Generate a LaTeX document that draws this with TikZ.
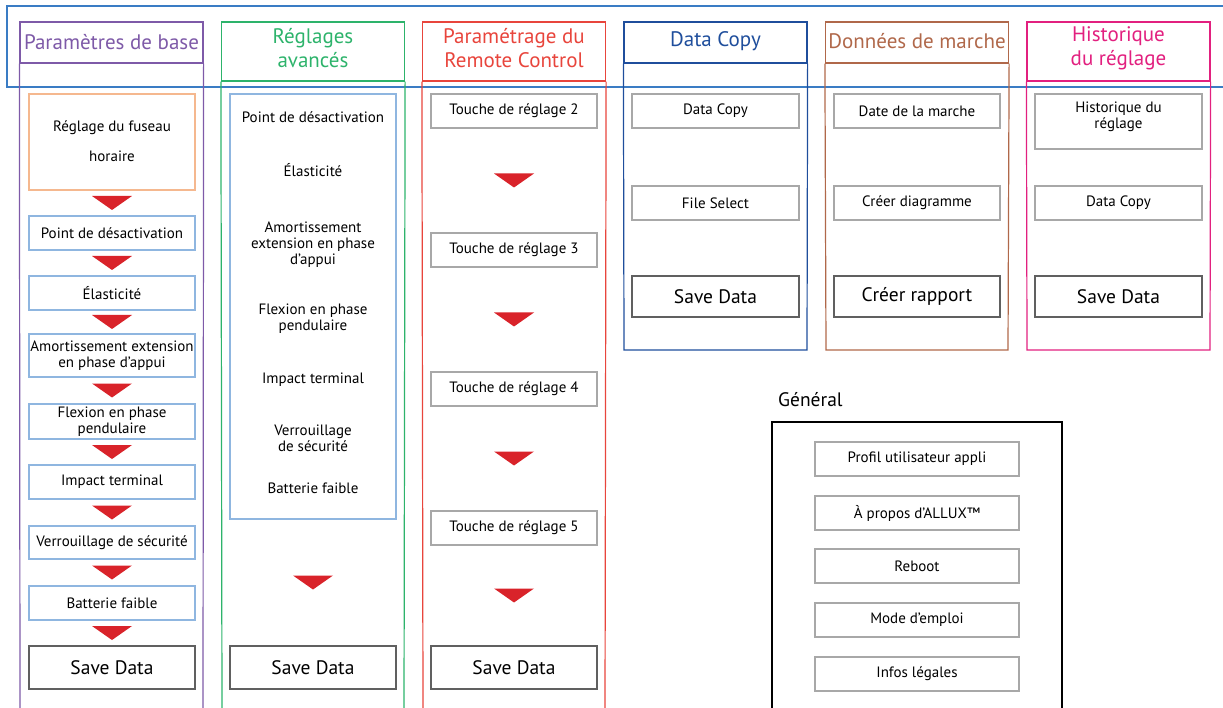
\documentclass[tikz,border=0pt]{standalone}
\usepackage{fontspec}
\setmainfont{PT Sans}
\usetikzlibrary{calc}
\definecolor{cpurple}{HTML}{7E5AA8}
\definecolor{cgreen}{HTML}{2DB36B}
\definecolor{cred}{HTML}{E8453C}
\definecolor{cdblue}{HTML}{1F4E9C}
\definecolor{cbrown}{HTML}{B0684A}
\definecolor{cpink}{HTML}{E2207F}
\definecolor{cframe}{HTML}{3A7CC4}
\definecolor{corange}{HTML}{F5B88F}
\definecolor{clblue}{HTML}{8FB6E0}
\definecolor{cgray}{HTML}{A8A8A8}
\definecolor{cdgray}{HTML}{606060}
\definecolor{ctri}{HTML}{D9232A}
\newcommand{\bodyfont}{\fontsize{15}{16}\selectfont}
\newcommand{\hdrfont}{\fontsize{21}{24}\selectfont}
\newcommand{\savefont}{\fontsize{19.5}{20}\selectfont}
\tikzset{
  colline/.style={line width=1.2pt},
  hdr/.style={draw, line width=1.2pt, minimum width=183pt, inner sep=0pt, align=center, font=\hdrfont},
  hdrtext/.style={inner sep=0pt, align=center, font=\hdrfont},
  graybox/.style={draw=cgray, line width=1.1pt, minimum width=166pt, minimum height=34pt, inner sep=0pt, align=center, font=\bodyfont},
  bluebox/.style={draw=clblue, line width=1.1pt, minimum width=166pt, minimum height=34pt, inner sep=0pt, align=center, font=\bodyfont},
  savebox/.style={draw=cdgray, line width=1.1pt, minimum width=166pt, minimum height=42pt, inner sep=0pt, align=center, font=\savefont},
  txt/.style={inner sep=0pt, align=center, font=\bodyfont},
  tri/.style={fill=ctri}
}
\newcommand{\tridown}[1]{\fill[tri] (#1) ++(-20,-7) -- ++(40,0) -- ++(-20,14) -- cycle;}
\begin{document}
\begin{tikzpicture}[x=1pt,y=-1pt]
\useasboundingbox (0,0) rectangle (1223,708);
% outer blue frame
\draw[cframe, line width=1.1pt] (1230,6) -- (7,6) -- (7,87) -- (1230,87);

% ---------- Column 1: Parametres de base
\node[hdr, draw=cpurple, minimum height=41pt] (h1) at (111.5,42.5) {};
\node[hdrtext, text=cpurple] (h1t) at (111.5,42) {Paramètres de base};
\draw[cpurple, colline] (h1.south west) -- (20,712) (h1.south east) -- (203,712);
\node[draw=corange, line width=1.1pt, minimum width=166pt, minimum height=96pt, inner sep=0pt] (a0) at (112,142) {};
\node[txt] (a0t) at (112,141) {Réglage du fuseau\\[14pt]horaire};
\node[bluebox] (a1) at (112,233) {Point de désactivation};
\node[bluebox] (a2) at (112,293) {Élasticité};
\node[bluebox, minimum height=43pt] (a3) at (112,355.5) {Amortissement extension\\en phase d’appui};
\node[bluebox, minimum height=35pt] (a4) at (112,421.5) {Flexion en phase\\pendulaire};
\node[bluebox] (a5) at (112,482) {Impact terminal};
\node[bluebox, minimum height=33pt] (a6) at (112,542.5) {Verrouillage de sécurité};
\node[bluebox] (a7) at (112,603) {Batterie faible};
\node[savebox, minimum height=43pt] (a8) at (112,667.5) {Save Data};
\foreach \u/\v in {a0/a1,a1/a2,a2/a3,a3/a4,a4/a5,a5/a6,a6/a7,a7/a8}{
  \tridown{$(\u.south)!0.5!(\v.north)$}
}

% ---------- Column 2: Reglages avances
\node[hdr, draw=cgreen, minimum height=59pt] (h2) at (313,51.5) {};
\node[hdrtext, text=cgreen] (h2t) at (313,48) {Réglages\\avancés};
\draw[cgreen, colline] (h2.south west) -- (222,712) (h2.south east) -- (404,712);
\node[draw=clblue, line width=1.1pt, minimum width=166pt, minimum height=425pt, inner sep=0pt] (b0) at (313,306.5) {};
\node[txt] (b1) at (313,117) {Point de désactivation};
\node[txt] (b2) at (313,170) {Élasticité};
\node[txt] (b3) at (313,245) {Amortissement\\extension en phase\\d’appui};
\node[txt] (b4) at (313,319) {Flexion en phase\\pendulaire};
\node[txt] (b5) at (313,380) {Impact terminal};
\node[txt] (b6) at (313,438) {Verrouillage\\de sécurité};
\node[txt] (b7) at (313,488) {Batterie faible};
\node[savebox, minimum height=43pt] (b8) at (313,667.5) {Save Data};
\tridown{$(b0.south)!0.5!(b8.north)$}

% ---------- Column 3: Remote Control
\node[hdr, draw=cred, minimum height=59pt] (h3) at (514,51.5) {};
\node[hdrtext, text=cred] (h3t) at (514,48) {Paramétrage du\\Remote Control};
\draw[cred, colline] (h3.south west) -- (423,712) (h3.south east) -- (605,712);
\node[graybox] (c1) at (514,111) {Touche de réglage 2};
\node[graybox] (c2) at (514,250) {Touche de réglage 3};
\node[graybox] (c3) at (514,389) {Touche de réglage 4};
\node[graybox] (c4) at (514,528) {Touche de réglage 5};
\node[savebox, minimum height=43pt] (c5) at (514,667.5) {Save Data};
\foreach \u/\v in {c1/c2,c2/c3,c3/c4,c4/c5}{
  \tridown{$(\u.south)!0.5!(\v.north)$}
}

% ---------- Column 4: Data Copy
\node[hdr, draw=cdblue, minimum height=41pt] (h4) at (715.5,42.5) {};
\node[hdrtext, text=cdblue] (h4t) at (715.5,41) {Data Copy};
\draw[cdblue, colline] (h4.south west) -- (624,350) -- (807,350) -- (h4.south east);
\node[graybox, minimum width=167pt] (d1) at (715.5,111) {Data Copy};
\node[graybox, minimum width=167pt] (d2) at (715.5,203) {File Select};
\node[savebox, minimum width=167pt, minimum height=41pt] (d3) at (715.5,296.5) {Save Data};

% ---------- Column 5: Donnees de marche
\node[hdr, draw=cbrown, minimum height=41pt] (h5) at (917,42.5) {};
\node[hdrtext, text=cbrown] (h5t) at (917,41) {Données de marche};
\draw[cbrown, colline] (h5.south west) -- (826,350) -- (1008,350) -- (h5.south east);
\node[graybox] (e1) at (917,111) {Date de la marche};
\node[graybox] (e2) at (917,203) {Créer diagramme};
\node[savebox, minimum height=41pt] (e3) at (917,296.5) {Créer rapport};

% ---------- Column 6: Historique du reglage
\node[hdr, draw=cpink, minimum height=59pt] (h6) at (1118.5,51.5) {};
\node[hdrtext, text=cpink] (h6t) at (1118.5,48) {Historique\\du réglage};
\draw[cpink, colline] (h6.south west) -- (1027,350) -- (1210,350) -- (h6.south east);
\node[draw=cgray, line width=1.1pt, minimum width=167pt, minimum height=55pt, inner sep=0pt] (f1) at (1118.5,121.5) {};
\node[txt] (f1t) at (1118.5,117) {Historique du\\réglage};
\node[graybox, minimum width=167pt] (f2) at (1118.5,203) {Data Copy};
\node[savebox, minimum width=167pt, minimum height=41pt] (f3) at (1118.5,296.5) {Save Data};

% ---------- General
\node[inner sep=0pt, font=\fontsize{19.5}{22}\selectfont, anchor=west] (gt) at (778,400) {Général};
\draw[black, line width=1.1pt] (772,712) -- (772,422) -- (1062,422) -- (1062,712);
\node[graybox, minimum width=204pt] (g1) at (917,459) {Profil utilisateur appli};
\node[graybox, minimum width=204pt] (g2) at (917,513) {À propos d’ALLUX™};
\node[graybox, minimum width=204pt] (g3) at (917,566) {Reboot};
\node[graybox, minimum width=204pt] (g4) at (917,620) {Mode d’emploi};
\node[graybox, minimum width=204pt] (g5) at (917,674) {Infos légales};
\end{tikzpicture}
\end{document}
